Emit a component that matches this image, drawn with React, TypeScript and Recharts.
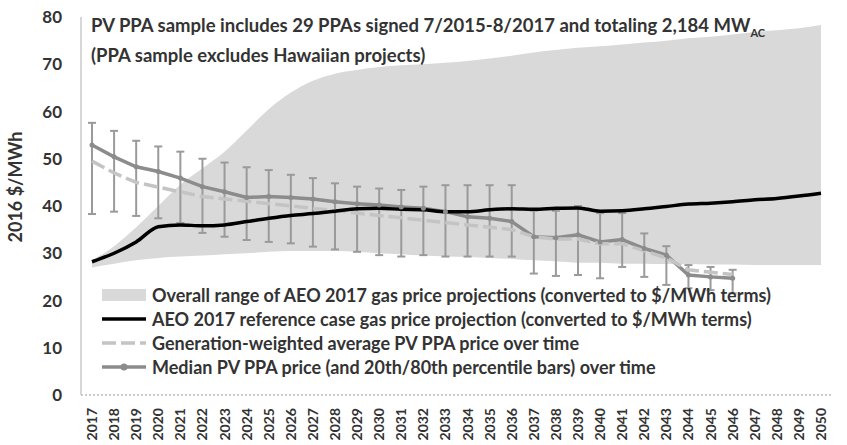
import React from 'react';
import {
  ComposedChart, Area, Line, XAxis, YAxis, ErrorBar,
} from 'recharts';

const years = [
  '2017', '2018', '2019', '2020', '2021', '2022', '2023', '2024', '2025', '2026',
  '2027', '2028', '2029', '2030', '2031', '2032', '2033', '2034', '2035', '2036',
  '2037', '2038', '2039', '2040', '2041', '2042', '2043', '2044', '2045', '2046',
  '2047', '2048', '2049', '2050',
];

// AEO 2017 gas price projections, $/MWh
const gasRef = [
  28.2, 30, 32.4, 35.6, 36, 35.8, 36, 36.7, 37.4, 38,
  38.4, 38.9, 39.4, 39.5, 39.3, 39.2, 38.8, 38.8, 39.2, 39.4,
  39.3, 39.5, 39.6, 38.9, 39, 39.4, 39.9, 40.4, 40.6, 40.9,
  41.3, 41.6, 42.1, 42.7,
];
const rangeLow = [
  27, 27.8, 28.5, 29, 29.3, 29.5, 29.8, 30, 30.3, 30.5,
  30.5, 30.5, 30.3, 30, 29.8, 29.5, 29.3, 29.2, 29, 28.8,
  28.5, 28.3, 28, 28, 27.8, 27.8, 27.7, 27.7, 27.6, 27.6,
  27.5, 27.5, 27.5, 27.5,
];
const rangeHigh = [
  28.5, 31.5, 35.5, 40, 44.5, 48, 51.5, 56, 60.5, 64,
  66.5, 68, 68.8, 69.4, 69.8, 70, 70.3, 70.7, 71.2, 71.8,
  72.5, 73, 73.5, 73.8, 74.2, 74.6, 75, 75.5, 75.8, 76.3,
  76.8, 77.2, 77.6, 78.3,
];

// PV PPA prices, 2017-2046
const median = [
  52.9, 50.4, 48.3, 47.3, 45.9, 44.1, 43, 41.8, 42, 41.8,
  41.5, 40.9, 40.5, 40.2, 39.8, 39.5, 38.8, 37.7, 37.4, 36.7,
  33.5, 33.3, 33.9, 32.4, 32.9, 31, 29.6, 25.4, 25, 24.7,
];
const p80 = [
  57.6, 55.9, 53.8, 52.6, 51.5, 50, 49.2, 48.2, 47.6, 46.6,
  45.9, 44.8, 44.1, 43.7, 43.4, 44.1, 44.4, 44.4, 44.4, 44.4,
  39, 39, 40, 38.5, 38.5, 34.2, 31.5, 27.5, 27.1, 26.5,
];
const p20 = [
  38.3, 38.8, 37.9, 37.4, 36.4, 34.3, 33.5, 32.8, 32.4, 32.1,
  31.4, 30.8, 30.3, 29.6, 29.3, 29.6, 29.3, 29.3, 29.3, 29.3,
  25.7, 25.2, 25.4, 24.7, 27.1, 25, 23.3, 22.6, 22.2, 21.5,
];
const weighted = [
  49.5, 47, 45, 44, 43, 42, 41.5, 41, 40.5, 40,
  39.5, 39, 38.5, 38, 37.5, 37, 36.5, 36, 35.5, 35,
  33.5, 33, 33, 32, 32, 30.5, 29, 26.5, 26, 25.5,
];

const yTicks = [0, 10, 20, 30, 40, 50, 60, 70, 80];

const legendItems = [
  { key: 'range', label: 'Overall range of AEO 2017 gas price projections (converted to $/MWh terms)' },
  { key: 'gas', label: 'AEO 2017 reference case gas price projection (converted to $/MWh terms)' },
  { key: 'weighted', label: 'Generation-weighted average PV PPA price over time' },
  { key: 'median', label: 'Median PV PPA price (and 20th/80th percentile bars) over time' },
];

const data = years.map((year, i) => ({
  year,
  gas: gasRef[i],
  range: [rangeLow[i], rangeHigh[i]],
  median: i < median.length ? median[i] : null,
  err: i < median.length ? [median[i] - p20[i], p80[i] - median[i]] : null,
  weighted: i < weighted.length ? weighted[i] : null,
}));

const FONT = 'Lato, "Open Sans", sans-serif';
const TEXT = '#333333';

function XTick({ x, y, payload }: any) {
  return (
    <text
      x={x} y={y}
      transform={`rotate(-90, ${x}, ${y})`}
      dx={-5} dy={5}
      textAnchor="end"
      fontSize={14}
      fontWeight={700}
      fontFamily={FONT}
      fill={TEXT}
    >
      {payload.value}
    </text>
  );
}

function Swatch({ kind }: { kind: string }) {
  if (kind === 'range') {
    return <svg width={48} height={14}><rect x={2} y={1} width={44} height={12} fill="#d9d9d9" /></svg>;
  }
  if (kind === 'gas') {
    return <svg width={48} height={14}><line x1={2} y1={7} x2={46} y2={7} stroke="#000" strokeWidth={3.5} /></svg>;
  }
  if (kind === 'weighted') {
    return <svg width={48} height={14}><line x1={2} y1={7} x2={46} y2={7} stroke="#c4c4c4" strokeWidth={3.5} strokeDasharray="14 5" /></svg>;
  }
  return (
    <svg width={48} height={14}>
      <line x1={2} y1={7} x2={46} y2={7} stroke="#8c8c8c" strokeWidth={3.5} />
      <circle cx={24} cy={7} r={3.5} fill="#8c8c8c" />
    </svg>
  );
}

export default function App() {
  return (
    <div style={{ position: 'absolute', left: 0, top: 0, width: 847, height: 445, background: '#fff' }}>
      <ComposedChart
        width={847} height={445} data={data}
        margin={{ top: 17, right: 15, bottom: 0, left: 0 }}
      >
        <XAxis
          dataKey="year"
          interval={0}
          padding={{ left: 11, right: 11 }}
          tick={<XTick />}
          tickLine={false}
          axisLine={{ stroke: '#9a9a9a', strokeDasharray: '2 2' }}
          height={50}
        />
        <YAxis
          domain={[0, 80]}
          ticks={yTicks}
          width={81}
          tickLine={false}
          tickMargin={13}
          axisLine={{ stroke: '#b0b0b0' }}
          tick={{ fontSize: 17, fontWeight: 700, fill: TEXT, fontFamily: FONT }}
        />
        <Area
          dataKey="range" type="monotone"
          stroke="none" fill="#d9d9d9" fillOpacity={1}
          isAnimationActive={false}
        />
        <Line
          dataKey="median" type="linear"
          stroke="#8c8c8c" strokeWidth={3.5}
          dot={{ r: 2.5, fill: '#8c8c8c', stroke: 'none' }}
          isAnimationActive={false}
        >
          <ErrorBar dataKey="err" direction="y" width={4} stroke="#9a9a9a" strokeWidth={2} isAnimationActive={false} />
        </Line>
        <Line
          dataKey="weighted" type="linear"
          stroke="#c4c4c4" strokeWidth={3.5} strokeDasharray="14 5"
          dot={false}
          isAnimationActive={false}
        />
        <Line
          dataKey="gas" type="monotone"
          stroke="#000" strokeWidth={3.5}
          dot={false}
          isAnimationActive={false}
        />
        <text
          x={15} y={187}
          transform="rotate(-90, 15, 187)"
          textAnchor="middle" dominantBaseline="central"
          fontSize={18} fontWeight={700} fontFamily={FONT} fill={TEXT}
        >
          2016 $/MWh
        </text>
      </ComposedChart>

      {/* annotation */}
      <div
        style={{
          position: 'absolute', left: 91, top: 14,
          fontFamily: FONT, fontWeight: 700, fontSize: 18.5, color: TEXT, lineHeight: '23px',
          whiteSpace: 'nowrap',
        }}
      >
        <div>
          PV PPA sample includes 29 PPAs signed 7/2015-8/2017 and totaling 2,184 MW
          <sub style={{ fontSize: 11 }}>AC</sub>
        </div>
        <div>(PPA sample excludes Hawaiian projects)</div>
      </div>

      {/* legend */}
      <div
        style={{
          position: 'absolute', left: 100, top: 283,
          fontFamily: FONT, fontWeight: 700, fontSize: 18, color: TEXT,
        }}
      >
        {legendItems.map((it) => (
          <div key={it.key} style={{ display: 'flex', alignItems: 'center', height: 24 }}>
            <Swatch kind={it.key} />
            <span style={{ marginLeft: 4, whiteSpace: 'nowrap' }}>{it.label}</span>
          </div>
        ))}
      </div>
    </div>
  );
}
